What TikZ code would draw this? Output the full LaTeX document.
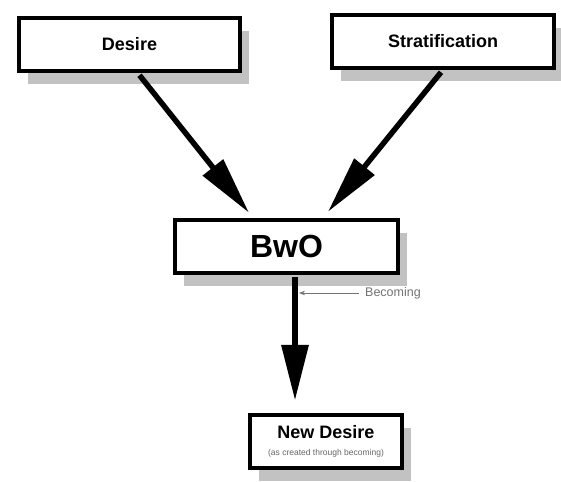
\documentclass[tikz,border=0pt]{standalone}
\usepackage{fontspec}
\setmainfont{Liberation Sans}
\usetikzlibrary{arrows.meta,shadows,calc}
\begin{document}
\begin{tikzpicture}[x=1pt,y=-1pt,
  box/.style={draw=black, line width=4.5pt, fill=white, rectangle, inner sep=0pt,
    minimum height=53pt, font=\bfseries\fontsize{18}{20}\selectfont,
    drop shadow={shadow xshift=9pt, shadow yshift=-13pt, fill=black!24, opacity=1}},
  bigarrow/.style={line width=5.5pt, -{Triangle[length=58pt,width=25pt]}},
  downarrow/.style={line width=6.5pt, -{Triangle[length=56pt,width=26pt]}},
  smallarrow/.style={line width=0.8pt, draw=black!55, -{Stealth[length=6pt,width=4.5pt]}},
  note/.style={text=black!55, inner sep=0pt}]
\useasboundingbox (0,0) rectangle (561,481);
\node[box, minimum width=221pt] (desire) at (129.5,44.5) {Desire};
\node[box, minimum width=222pt] (strat) at (443,41.5) {Stratification};
\node[box, minimum width=223pt, font=\bfseries\fontsize{32}{34}\selectfont] (bwo) at (286.5,246.5) {BwO};
\node[box, minimum width=152pt, align=center] (newdesire) at (326,441.5)
  {New Desire\\[-3pt]{\mdseries\fontsize{8.5}{9}\selectfont\color{black!60}(as created through becoming)}};
\draw[bigarrow] ($(desire.south)+(10,2)$) -- ($(bwo.north)+(-37.5,-5)$);
\draw[bigarrow] ($(strat.south)+(-2,2)$) -- ($(bwo.north)+(41.5,-6)$);
\draw[downarrow] ($(bwo.south)+(8.5,2)$) -- ($(newdesire.north)+(-31,-12)$);
\node[note, anchor=west, font=\fontsize{12.5}{13}\selectfont] (becoming) at (365,293) {Becoming};
\coordinate (shaft) at (299,293);
\draw[smallarrow] ($(becoming.west)+(-6,0)$) -- (shaft);
\end{tikzpicture}
\end{document}
